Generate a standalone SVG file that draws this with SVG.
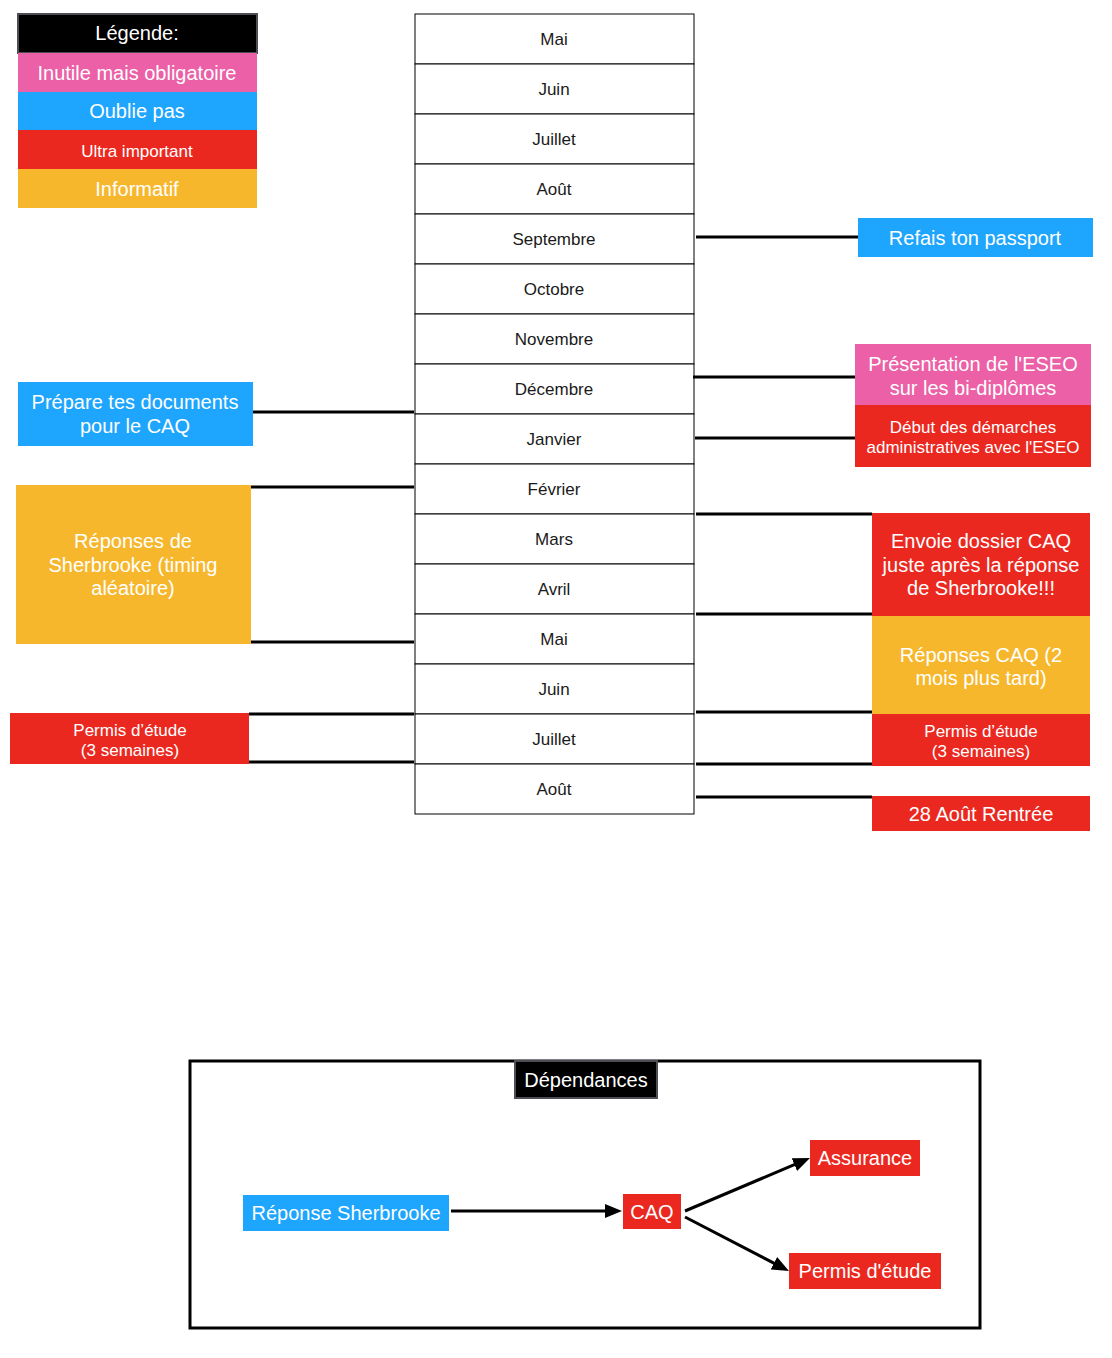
<svg xmlns="http://www.w3.org/2000/svg" width="1112" height="1358" viewBox="0 0 1112 1358">
<style>
text { font-family: "Liberation Sans", Arial, Helvetica, sans-serif; text-anchor: middle; }
.w { fill: #ffffff; font-size: 20px; }
.ws { fill: #ffffff; font-size: 17px; }
.m { fill: #1a1a1a; font-size: 17px; }
.row { fill: #ffffff; stroke: #000000; stroke-width: 1; }
.pink { fill: #EB60A6; }
.blue { fill: #1EA5FD; }
.red { fill: #EB2820; }
.orange { fill: #F6B72D; }
.black { fill: #000000; stroke: #4d4f55; stroke-width: 2; }
.c { stroke: #000000; stroke-width: 3; fill: none; }
</style>
<defs>
<marker id="arr" markerUnits="userSpaceOnUse" markerWidth="18" markerHeight="15" refX="7" refY="7" orient="auto">
<path d="M0,0 L17,7 L0,14 z" fill="#000000"/>
</marker>
</defs>
<rect x="0" y="0" width="1112" height="1358" fill="#ffffff"/>

<g id="legend">
<rect class="black" x="18" y="14" width="239" height="39"/>
<text class="w" x="137" y="40">Légende:</text>
<rect class="pink" x="18" y="53" width="239" height="39"/>
<text class="w" x="137" y="80">Inutile mais obligatoire</text>
<rect class="blue" x="18" y="92" width="239" height="38"/>
<text class="w" x="137" y="118">Oublie pas</text>
<rect class="red" x="18" y="130" width="239" height="39"/>
<text class="ws" x="137" y="157">Ultra important</text>
<rect class="orange" x="18" y="169" width="239" height="39"/>
<text class="w" x="137" y="196">Informatif</text>
</g>

<g id="timeline">
<rect class="row" x="415" y="14" width="279" height="50"/><text class="m" x="554" y="45">Mai</text>
<rect class="row" x="415" y="64" width="279" height="50"/><text class="m" x="554" y="95">Juin</text>
<rect class="row" x="415" y="114" width="279" height="50"/><text class="m" x="554" y="145">Juillet</text>
<rect class="row" x="415" y="164" width="279" height="50"/><text class="m" x="554" y="195">Août</text>
<rect class="row" x="415" y="214" width="279" height="50"/><text class="m" x="554" y="245">Septembre</text>
<rect class="row" x="415" y="264" width="279" height="50"/><text class="m" x="554" y="295">Octobre</text>
<rect class="row" x="415" y="314" width="279" height="50"/><text class="m" x="554" y="345">Novembre</text>
<rect class="row" x="415" y="364" width="279" height="50"/><text class="m" x="554" y="395">Décembre</text>
<rect class="row" x="415" y="414" width="279" height="50"/><text class="m" x="554" y="445">Janvier</text>
<rect class="row" x="415" y="464" width="279" height="50"/><text class="m" x="554" y="495">Février</text>
<rect class="row" x="415" y="514" width="279" height="50"/><text class="m" x="554" y="545">Mars</text>
<rect class="row" x="415" y="564" width="279" height="50"/><text class="m" x="554" y="595">Avril</text>
<rect class="row" x="415" y="614" width="279" height="50"/><text class="m" x="554" y="645">Mai</text>
<rect class="row" x="415" y="664" width="279" height="50"/><text class="m" x="554" y="695">Juin</text>
<rect class="row" x="415" y="714" width="279" height="50"/><text class="m" x="554" y="745">Juillet</text>
<rect class="row" x="415" y="764" width="279" height="50"/><text class="m" x="554" y="795">Août</text>
</g>

<g id="passport">
<rect class="blue" x="858" y="218" width="235" height="39"/>
<text class="w" x="975" y="245">Refais ton passport</text>
</g>
<g id="presentation">
<rect class="pink" x="855" y="344" width="236" height="61"/>
<text class="w" x="973" y="371">Présentation de l'ESEO</text>
<text class="w" x="973" y="395">sur les bi-diplômes</text>
</g>
<g id="debut">
<rect class="red" x="855" y="405" width="236" height="62"/>
<text class="ws" x="973" y="433">Début des démarches</text>
<text class="ws" x="973" y="453">administratives avec l'ESEO</text>
</g>
<g id="prepare">
<rect class="blue" x="18" y="382" width="235" height="64"/>
<text class="w" x="135" y="409">Prépare tes documents</text>
<text class="w" x="135" y="433">pour le CAQ</text>
</g>
<g id="reponses-sherbrooke">
<rect class="orange" x="16" y="485" width="235" height="159"/>
<text class="w" x="133" y="548">Réponses de</text>
<text class="w" x="133" y="572">Sherbrooke (timing</text>
<text class="w" x="133" y="595">aléatoire)</text>
</g>
<g id="permis-gauche">
<rect class="red" x="10" y="713" width="239" height="51"/>
<text class="ws" x="130" y="736">Permis d’étude</text>
<text class="ws" x="130" y="756">(3 semaines)</text>
</g>
<g id="envoie-caq">
<rect class="red" x="872" y="513" width="218" height="103"/>
<text class="w" x="981" y="548">Envoie dossier CAQ</text>
<text class="w" x="981" y="572">juste après la réponse</text>
<text class="w" x="981" y="595">de Sherbrooke!!!</text>
</g>
<g id="reponses-caq">
<rect class="orange" x="872" y="616" width="218" height="98"/>
<text class="w" x="981" y="662">Réponses CAQ (2</text>
<text class="w" x="981" y="685">mois plus tard)</text>
</g>
<g id="permis-droite">
<rect class="red" x="872" y="714" width="218" height="52"/>
<text class="ws" x="981" y="737">Permis d’étude</text>
<text class="ws" x="981" y="757">(3 semaines)</text>
</g>
<g id="rentree">
<rect class="red" x="872" y="796" width="218" height="35"/>
<text class="w" x="981" y="821">28 Août Rentrée</text>
</g>

<g id="dependances">
<rect x="190" y="1061" width="790" height="267" fill="none" stroke="#000000" stroke-width="3"/>
<rect class="black" x="515" y="1061" width="142" height="37"/>
<text class="w" x="586" y="1087">Dépendances</text>
</g>
<g id="dep-sherbrooke">
<rect class="blue" x="243" y="1195" width="206" height="36"/>
<text class="w" x="346" y="1220">Réponse Sherbrooke</text>
</g>
<g id="dep-caq">
<rect class="red" x="623" y="1194" width="58" height="35"/>
<text class="w" x="652" y="1219">CAQ</text>
</g>
<g id="dep-assurance">
<rect class="red" x="810" y="1140" width="110" height="36"/>
<text class="w" x="865" y="1165">Assurance</text>
</g>
<g id="dep-permis">
<rect class="red" x="789" y="1253" width="152" height="36"/>
<text class="w" x="865" y="1278">Permis d'étude</text>
</g>

<g id="connectors">
<line class="c" x1="696" y1="237" x2="858" y2="237"/>
<line class="c" x1="693" y1="377" x2="855" y2="377"/>
<line class="c" x1="695" y1="438" x2="855" y2="438"/>
<line class="c" x1="253" y1="412" x2="414" y2="412"/>
<line class="c" x1="251" y1="487" x2="414" y2="487"/>
<line class="c" x1="251" y1="642" x2="414" y2="642"/>
<line class="c" x1="249" y1="714" x2="414" y2="714"/>
<line class="c" x1="249" y1="762" x2="414" y2="762"/>
<line class="c" x1="696" y1="514" x2="872" y2="514"/>
<line class="c" x1="696" y1="614" x2="872" y2="614"/>
<line class="c" x1="696" y1="712" x2="872" y2="712"/>
<line class="c" x1="696" y1="764" x2="872" y2="764"/>
<line class="c" x1="696" y1="797" x2="872" y2="797"/>
<line class="c" x1="451" y1="1211" x2="612" y2="1211" marker-end="url(#arr)"/>
<line class="c" x1="685" y1="1211" x2="800.8" y2="1161.9" marker-end="url(#arr)"/>
<line class="c" x1="685" y1="1217" x2="780.1" y2="1266.4" marker-end="url(#arr)"/>
</g>
</svg>
